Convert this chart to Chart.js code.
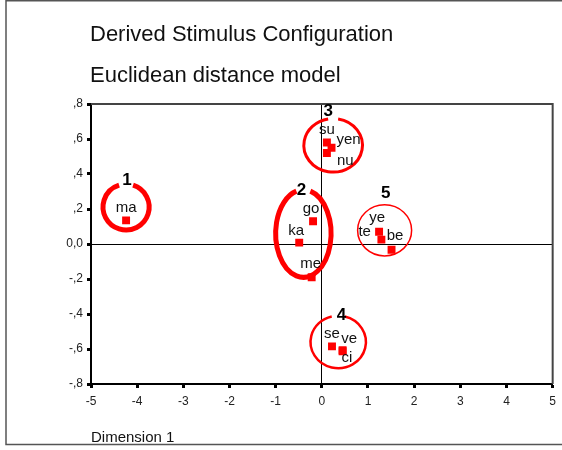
<!DOCTYPE html>
<html>
<head>
<meta charset="utf-8">
<title>Derived Stimulus Configuration</title>
<script src="https://cdn.jsdelivr.net/npm/chart.js@4.4.1/dist/chart.umd.min.js"></script>
<style>
  body { margin: 0; background: #fff; }
  canvas { display: block; }
</style>
</head>
<body>
<canvas id="mdsChart" width="562" height="450"></canvas>
<script>
// Stimuli (Dimension 1, Dimension 2)
const stimulusNames = ['ma', 'go', 'ka', 'me', 'su', 'yen', 'nu', 'ye', 'te', 'be', 'se', 've', 'ci'];
const dim1Values = [-4.24, -0.19, -0.49, -0.22, 0.11, 0.21, 0.11, 1.24, 1.29, 1.51, 0.22, 0.45, 0.45];
const dim2Values = [0.135, 0.13, 0.008, -0.19, 0.58, 0.55, 0.52, 0.07, 0.025, -0.033, -0.585, -0.607, -0.613];

// Cluster rings (data units)
const clusterNames = ['1', '2', '3', '4', '5'];
const clusterCenterX = [-4.24, -0.40, 0.245, 0.355, 1.36];
const clusterCenterY = [0.211, 0.06, 0.564, -0.56, 0.078];
const clusterRadiusX = [0.50, 0.60, 0.635, 0.60, 0.585];
const clusterRadiusY = [0.131, 0.25, 0.153, 0.15, 0.146];
const clusterLabelX = [-4.22, -0.44, 0.136, 0.426, 1.386];
const clusterLabelY = [0.364, 0.307, 0.761, -0.407, 0.288];

// Tick labels
const xTickValues = [-5, -4, -3, -2, -1, 0, 1, 2, 3, 4, 5];
const xTickLabels = ['-5', '-4', '-3', '-2', '-1', '0', '1', '2', '3', '4', '5'];
const yTickValues = [0.8, 0.6, 0.4, 0.2, 0, -0.2, -0.4, -0.6, -0.8];
const yTickLabels = [',8', ',6', ',4', ',2', '0,0', '-,2', '-,4', '-,6', '-,8'];

const titleLines = ['Derived Stimulus Configuration', 'Euclidean distance model'];
const xAxisTitle = 'Dimension 1';

// styles for the annotations (kept apart from data)
const FONT = "'Liberation Sans', Arial, sans-serif";
const RED = '#ff0000';
const ringWidths = [5, 5, 3, 2.5, 1.5];
const ringGaps = [7, 7, 5, 6.5, 0];          // half width of the gap under the number, px
// label offset from its point in px, and alignment
const labelDx = [0, -2, -3, -1, 0, 5, 10, -2, -10.5, 3.5, 0, 6.6, 4.3];
const labelDy = [-13, -12, -12, -13, -13, -8, 8, -14, -7.6, -14, -13, -11, 7];
const labelAlign = ['center', 'center', 'center', 'center', 'center', 'left', 'left',
                    'center', 'right', 'center', 'center', 'center', 'center'];

function fmtTick(list, labels, value) {
  for (let i = 0; i < list.length; i++) {
    if (Math.abs(list[i] - value) < 1e-6) return labels[i];
  }
  return '';
}

// frame, titles, rings and labels
const decorPlugin = {
  id: 'decor',
  beforeDraw(chart) {
    const ctx = chart.ctx;
    ctx.save();
    ctx.fillStyle = '#fff';
    ctx.fillRect(0, 0, chart.width, chart.height);
    ctx.strokeStyle = '#555';
    ctx.lineWidth = 1.5;
    ctx.beginPath();
    ctx.moveTo(chart.width, 0.75);
    ctx.lineTo(6, 0.75);
    ctx.lineTo(6, 444.5);
    ctx.lineTo(chart.width, 444.5);
    ctx.stroke();

    ctx.fillStyle = '#111';
    ctx.textAlign = 'left';
    ctx.textBaseline = 'alphabetic';
    ctx.font = '22px ' + FONT;
    ctx.fillText(titleLines[0], 90, 41);
    ctx.fillText(titleLines[1], 90, 82);
    ctx.font = '15px ' + FONT;
    ctx.fillText(xAxisTitle, 91, 442);
    ctx.restore();
  },
  afterDatasetsDraw(chart) {
    const ctx = chart.ctx;
    const xs = chart.scales.x;
    const ys = chart.scales.y;
    const area = chart.chartArea;

    ctx.save();
    // top and right edge of the plot frame
    ctx.strokeStyle = '#444';
    ctx.lineWidth = 2;
    ctx.beginPath();
    ctx.moveTo(area.left, area.top);
    ctx.lineTo(area.right, area.top);
    ctx.lineTo(area.right, area.bottom);
    ctx.stroke();

    // cluster rings
    ctx.strokeStyle = RED;
    for (let i = 0; i < clusterNames.length; i++) {
      const cx = xs.getPixelForValue(clusterCenterX[i]);
      const cy = ys.getPixelForValue(clusterCenterY[i]);
      const rx = xs.getPixelForValue(clusterCenterX[i] + clusterRadiusX[i]) - cx;
      const ry = cy - ys.getPixelForValue(clusterCenterY[i] + clusterRadiusY[i]);
      const d = ringGaps[i] > 0 ? Math.asin(Math.min(1, ringGaps[i] / rx)) : 0;
      ctx.lineWidth = ringWidths[i];
      ctx.beginPath();
      ctx.ellipse(cx, cy, rx, ry, 0, -Math.PI / 2 + d, Math.PI * 1.5 - d);
      ctx.stroke();
    }

    // cluster numbers
    ctx.fillStyle = '#000';
    ctx.textAlign = 'center';
    ctx.textBaseline = 'middle';
    ctx.font = 'bold 17px ' + FONT;
    for (let i = 0; i < clusterNames.length; i++) {
      ctx.fillText(clusterNames[i],
        xs.getPixelForValue(clusterLabelX[i]),
        ys.getPixelForValue(clusterLabelY[i]));
    }

    // stimulus names
    ctx.font = '15px ' + FONT;
    ctx.fillStyle = '#111';
    const pts = chart.getDatasetMeta(0).data;
    for (let i = 0; i < pts.length; i++) {
      ctx.textAlign = labelAlign[i];
      ctx.fillText(stimulusNames[i], pts[i].x + labelDx[i], pts[i].y + labelDy[i]);
    }
    ctx.restore();
  }
};

const points = dim1Values.map((v, i) => ({ x: v, y: dim2Values[i] }));
const zeroLine = c => (c.tick && Math.abs(c.tick.value) < 1e-9 ? '#000' : 'rgba(0,0,0,0)');

new Chart(document.getElementById('mdsChart'), {
  type: 'scatter',
  data: {
    datasets: [{
      data: points,
      pointStyle: 'rect',
      pointRadius: 5.6,
      pointHoverRadius: 5.6,
      backgroundColor: RED,
      borderWidth: 0
    }]
  },
  options: {
    responsive: false,
    animation: false,
    devicePixelRatio: 1,
    layout: { padding: { top: 104, right: 9, bottom: 0, left: 0 } },
    plugins: {
      legend: { display: false },
      tooltip: { enabled: false },
      title: { display: false }
    },
    scales: {
      x: {
        type: 'linear',
        min: -5,
        max: 5,
        afterFit: s => { s.height = 66; },
        afterBuildTicks: s => { s.ticks = xTickValues.map(v => ({ value: v })); },
        grid: { color: zeroLine, lineWidth: 1, tickColor: '#000', tickLength: 4, tickWidth: 3 },
        border: { display: true, color: '#000', width: 2 },
        ticks: {
          padding: 6,
          color: '#222',
          font: { family: FONT, size: 12 },
          maxRotation: 0,
          callback: v => fmtTick(xTickValues, xTickLabels, v)
        }
      },
      y: {
        type: 'linear',
        min: -0.8,
        max: 0.8,
        afterFit: s => { s.width = 91; },
        afterBuildTicks: s => { s.ticks = yTickValues.map(v => ({ value: v })); },
        grid: { color: zeroLine, lineWidth: 1, tickColor: '#000', tickLength: 4, tickWidth: 3 },
        border: { display: true, color: '#000', width: 2 },
        ticks: {
          padding: 4,
          color: '#222',
          font: { family: FONT, size: 12 },
          callback: v => fmtTick(yTickValues, yTickLabels, v)
        }
      }
    }
  },
  plugins: [decorPlugin]
});
</script>
</body>
</html>
